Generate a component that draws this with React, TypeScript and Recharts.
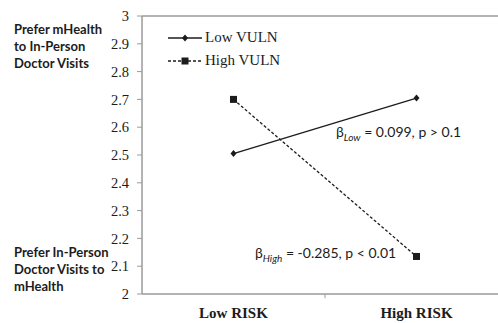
import { LineChart, Line, XAxis, YAxis, ReferenceLine } from 'recharts';

const categories = ['Low RISK', 'High RISK'];
const lowVuln = [2.505, 2.705];
const highVuln = [2.7, 2.135];
const yTicks = [2, 2.1, 2.2, 2.3, 2.4, 2.5, 2.6, 2.7, 2.8, 2.9, 3];

const AXIS = '#9a9a9a';
const INK = '#1c1c1c';
const SERIF = '"Liberation Serif", "Times New Roman", serif';
const SANS = 'Lato, "Open Sans", sans-serif';

const data = categories.map((name, i) => ({
  x: i + 0.5,
  name,
  low: lowVuln[i],
  high: highVuln[i],
}));

type DotProps = { cx?: number; cy?: number; index?: number };

const Diamond = ({ cx = 0, cy = 0, index }: DotProps) => (
  <path
    key={`d-${index}`}
    d={`M${cx},${cy - 3.5}L${cx + 3},${cy}L${cx},${cy + 3.5}L${cx - 3},${cy}Z`}
    fill={INK}
  />
);

const Square = ({ cx = 0, cy = 0, index }: DotProps) => (
  <rect key={`s-${index}`} x={cx - 3.5} y={cy - 3.5} width={7} height={7} fill={INK} />
);

type TickProps = { x: number; y: number; payload: { value: number } };

const CategoryTick = ({ x, y, payload }: TickProps) => (
  <text
    x={x}
    y={y + 24}
    textAnchor="middle"
    fontFamily={SERIF}
    fontWeight="bold"
    fontSize={15}
    fill={INK}
  >
    {categories[Math.floor(payload.value)]}
  </text>
);

function LegendBox() {
  const row = (label: string, dashed: boolean) => (
    <div style={{ display: 'flex', alignItems: 'center', height: 23 }}>
      <svg width={36} height={10}>
        <line
          x1={0}
          y1={5}
          x2={34}
          y2={5}
          stroke={INK}
          strokeWidth={1.3}
          strokeDasharray={dashed ? '3 2' : undefined}
        />
        {dashed ? (
          <rect x={13.5} y={1.5} width={7} height={7} fill={INK} />
        ) : (
          <path d="M17,1.5L20,5L17,8.5L14,5Z" fill={INK} />
        )}
      </svg>
      <span style={{ fontFamily: SERIF, fontSize: 15, color: INK, marginLeft: 1 }}>{label}</span>
    </div>
  );
  return (
    <div style={{ position: 'absolute', left: 168, top: 26 }}>
      {row('Low VULN', false)}
      {row('High VULN', true)}
    </div>
  );
}

const sideLabel: React.CSSProperties = {
  position: 'absolute',
  left: 14,
  fontFamily: SANS,
  fontWeight: 'bold',
  fontSize: 13,
  lineHeight: '17px',
  color: INK,
  whiteSpace: 'nowrap',
};

const note: React.CSSProperties = {
  position: 'absolute',
  fontFamily: SANS,
  fontSize: 14,
  color: INK,
  whiteSpace: 'nowrap',
  lineHeight: '18px',
};

export default function App() {
  return (
    <div
      style={{
        position: 'fixed',
        left: 0,
        top: 0,
        width: 498,
        height: 323,
        overflow: 'hidden',
        background: '#fff',
      }}
    >
      <LineChart width={510} height={323} data={data} margin={{ top: 16, right: 2, left: 0, bottom: 0 }}>
        <XAxis
          dataKey="x"
          type="number"
          domain={[0, 2]}
          ticks={[0.5, 1.5]}
          tick={CategoryTick}
          tickLine={false}
          tickSize={0}
          tickMargin={0}
          axisLine={{ stroke: AXIS, strokeWidth: 1.5 }}
          height={29}
          interval={0}
        />
        <YAxis
          type="number"
          domain={[2, 3]}
          ticks={yTicks}
          interval={0}
          width={142}
          tickSize={5}
          tickMargin={8}
          tickLine={{ stroke: AXIS }}
          axisLine={{ stroke: AXIS, strokeWidth: 1.5 }}
          tick={{ fontFamily: SERIF, fontSize: 14.5, fill: INK }}
          tickFormatter={(v: number) => String(Math.round(v * 10) / 10)}
        />
        <ReferenceLine y={3} stroke={AXIS} strokeWidth={1.5} />
        {/* divider tick between the two categories */}
        <ReferenceLine
          segment={[
            { x: 1, y: 2 },
            { x: 1, y: 1.985 },
          ]}
          ifOverflow="visible"
          stroke={AXIS}
          strokeWidth={1}
        />
        <Line
          dataKey="low"
          name="Low VULN"
          stroke={INK}
          strokeWidth={1.3}
          dot={Diamond}
          activeDot={false}
          isAnimationActive={false}
        />
        <Line
          dataKey="high"
          name="High VULN"
          stroke={INK}
          strokeWidth={1.3}
          strokeDasharray="3 2"
          dot={Square}
          activeDot={false}
          isAnimationActive={false}
        />
      </LineChart>

      <LegendBox />

      <div style={{ ...sideLabel, top: 21 }}>
        Prefer mHealth
        <br />
        to In-Person
        <br />
        Doctor Visits
      </div>
      <div style={{ ...sideLabel, top: 244 }}>
        Prefer In-Person
        <br />
        Doctor Visits to
        <br />
        mHealth
      </div>

      <div style={{ ...note, left: 336, top: 123 }}>
        β<sub style={{ fontStyle: 'italic', fontSize: 10 }}>Low</sub> = 0.099, p &gt; 0.1
      </div>
      <div style={{ ...note, left: 255, top: 244 }}>
        β<sub style={{ fontStyle: 'italic', fontSize: 10 }}>High</sub> = -0.285, p &lt; 0.01
      </div>
    </div>
  );
}
